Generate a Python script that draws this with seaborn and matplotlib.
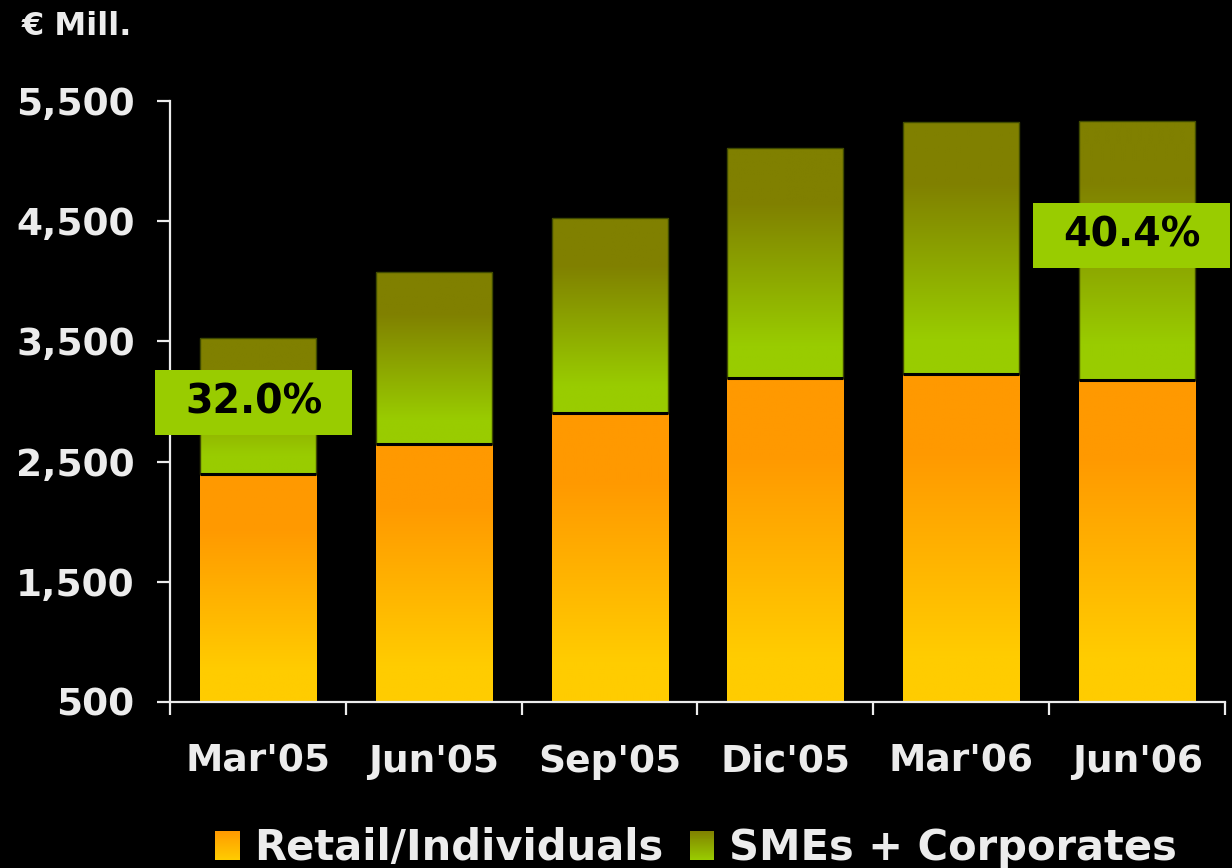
import numpy as np
import pandas as pd
import matplotlib
matplotlib.use("Agg")
import matplotlib.pyplot as plt
import seaborn as sns
from matplotlib.colors import LinearSegmentedColormap
from matplotlib.patches import Rectangle
from matplotlib.legend_handler import HandlerBase
from matplotlib.ticker import FixedLocator, FuncFormatter

# Loan book by customer segment (EUR millions)
periods = ["Mar'05", "Jun'05", "Sep'05", "Dic'05", "Mar'06", "Jun'06"]
retail = [2400, 2650, 2905, 3195, 3230, 3180]
total = [3530, 4075, 4525, 5110, 5325, 5335]
series_names = ["Retail/Individuals", "SMEs + Corporates"]
y_ticks = [500, 1500, 2500, 3500, 4500, 5500]

df = pd.DataFrame({"period": periods, "retail": retail, "total": total})

sns.set_theme(style="ticks")
plt.rcParams["font.family"] = ["DejaVu Sans"]
plt.rcParams["font.weight"] = "bold"

FG = "#ececec"
ORANGE_BOT, ORANGE_TOP = "#ffcc00", "#ff9900"
GREEN_BOT, GREEN_TOP = "#99cc00", "#808000"
LABEL_BOX = "#99cc00"


def ramp(bottom, top):
    return LinearSegmentedColormap.from_list(
        "ramp", [(0.0, bottom), (0.14, bottom), (0.76, top), (1.0, top)])


fig = plt.figure(figsize=(12.32, 8.68), dpi=100, facecolor="black")
ax = fig.add_axes([170 / 1232, 1 - 702 / 868, 1055 / 1232, 601 / 868])
ax.set_facecolor("black")

bar_w = 0.66
sns.barplot(data=df, x="period", y="total", color=GREEN_TOP, width=bar_w,
            ax=ax, saturation=1)
sns.barplot(data=df, x="period", y="retail", color=ORANGE_TOP, width=bar_w,
            ax=ax, saturation=1)

ymin, ymax = y_ticks[0], y_ticks[-1]
n = len(periods)
green_patches = ax.patches[:n]
orange_patches = ax.patches[n:2 * n]
grad = np.linspace(0, 1, 256).reshape(-1, 1)

for i, (gp, op) in enumerate(zip(green_patches, orange_patches)):
    # green segment sits on top of the retail segment
    gp.set_y(retail[i])
    gp.set_height(total[i] - retail[i])
    op.set_y(ymin)
    op.set_height(retail[i] - ymin)
    for p, cmap, edge in ((gp, ramp(GREEN_BOT, GREEN_TOP), "#3f4a00"),
                          (op, ramp(ORANGE_BOT, ORANGE_TOP), "none")):
        x0, y0 = p.get_x(), p.get_y()
        im = ax.imshow(grad, cmap=cmap, origin="lower", aspect="auto",
                       extent=[x0, x0 + p.get_width(), y0, y0 + p.get_height()],
                       zorder=p.get_zorder() - 0.05, interpolation="bilinear")
        im.set_clip_path(p)
        p.set_facecolor("none")
        p.set_edgecolor(edge)
        p.set_linewidth(1.0)
    ax.hlines(retail[i], gp.get_x(), gp.get_x() + gp.get_width(),
              color="black", lw=2.2, zorder=5)

ax.set_ylim(ymin, ymax)
ax.set_xlim(-0.5, n - 0.5)

# share of SMEs + Corporates, boxed callouts
for idx, (cx, cy) in ((0, (-0.025, 2992)), (n - 1, (4.97, 4377))):
    share = (total[idx] - retail[idx]) / total[idx] * 100
    bw, bh = 1.12, 541
    ax.add_patch(Rectangle((cx - bw / 2, cy - bh / 2), bw, bh,
                           facecolor=LABEL_BOX, edgecolor="none",
                           zorder=10, clip_on=False))
    ax.text(cx, cy, f"{share:.1f}%", ha="center", va="center",
            fontsize=28.5, fontweight="bold", color="black", zorder=11)

# axes styling
for side in ("top", "right"):
    ax.spines[side].set_visible(False)
for side in ("left", "bottom"):
    ax.spines[side].set_color(FG)
    ax.spines[side].set_linewidth(1.6)

ax.yaxis.set_major_locator(FixedLocator(y_ticks))
ax.yaxis.set_major_formatter(FuncFormatter(lambda v, _: f"{v:,.0f}"))
ax.tick_params(axis="y", which="major", direction="out", length=9.5,
               width=1.6, color=FG, labelcolor=FG, labelsize=27, pad=16)

ax.set_xticks(range(n))
ax.set_xticklabels(periods)
ax.xaxis.set_minor_locator(FixedLocator(np.arange(-0.5, n, 1.0)))
ax.tick_params(axis="x", which="major", length=0, labelcolor=FG,
               labelsize=27, pad=30)
ax.tick_params(axis="x", which="minor", direction="out", length=9,
               width=1.6, color=FG)
for lab in ax.get_xticklabels() + ax.get_yticklabels():
    lab.set_fontweight("bold")

ax.set_xlabel("")
ax.set_ylabel("")
ax.grid(False)

fig.text(22 / 1232, 1 - 35 / 868, "€ Mill.", color=FG, fontsize=23,
         fontweight="bold", ha="left", va="baseline")


class GradientSquare(HandlerBase):
    def __init__(self, bottom, top):
        super().__init__()
        self.cmap = LinearSegmentedColormap.from_list("sq", [bottom, top])

    def create_artists(self, legend, orig_handle, xdescent, ydescent,
                       width, height, fontsize, trans):
        steps = 30
        arts = []
        for k in range(steps):
            arts.append(Rectangle((-xdescent, -ydescent + height * k / steps),
                                  width, height / steps * 1.05,
                                  facecolor=self.cmap((k + 0.5) / steps),
                                  edgecolor="none", transform=trans))
        return arts


h_retail = Rectangle((0, 0), 1, 1)
h_sme = Rectangle((0, 0), 1, 1)
leg = fig.legend([h_retail, h_sme], series_names,
                 handler_map={h_retail: GradientSquare(ORANGE_BOT, ORANGE_TOP),
                              h_sme: GradientSquare(GREEN_BOT, GREEN_TOP)},
                 loc="center", bbox_to_anchor=(696 / 1232, 1 - 848 / 868),
                 ncol=2, frameon=False, fontsize=30,
                 handlelength=0.58, handleheight=0.72, handletextpad=0.36,
                 columnspacing=0.62, borderpad=0, borderaxespad=0)
for t in leg.get_texts():
    t.set_color(FG)
    t.set_fontweight("bold")

fig.savefig("out.png", dpi=100, facecolor="black")
